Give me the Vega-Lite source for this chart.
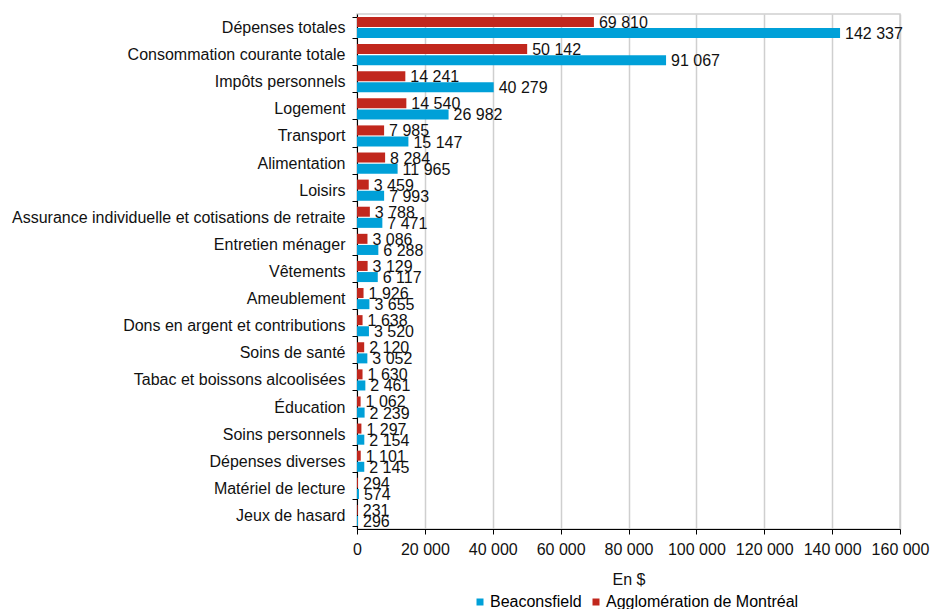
{
  "$schema": "https://vega.github.io/schema/vega-lite/v6.json",
  "autosize": "none",
  "width": 543,
  "height": 515,
  "padding": {"left": 357, "top": 14, "right": 32, "bottom": 80},
  "config": {
    "locale": {"number": {"decimal": ",", "thousands": " ", "grouping": [3], "currency": ["", " $"]}},
    "font": "Liberation Sans",
    "view": {"stroke": "#CFCFCF", "strokeWidth": 1.5},
    "axis": {"labelFont": "Liberation Sans", "titleFont": "Liberation Sans", "labelColor": "#111", "titleColor": "#111"},
    "legend": {"labelFont": "Liberation Sans"}
  },
  "data": {"values": [
    {"cat": "Dépenses totales", "serie": "Agglomération de Montréal", "val": 69810},
    {"cat": "Dépenses totales", "serie": "Beaconsfield", "val": 142337},
    {"cat": "Consommation courante totale", "serie": "Agglomération de Montréal", "val": 50142},
    {"cat": "Consommation courante totale", "serie": "Beaconsfield", "val": 91067},
    {"cat": "Impôts personnels", "serie": "Agglomération de Montréal", "val": 14241},
    {"cat": "Impôts personnels", "serie": "Beaconsfield", "val": 40279},
    {"cat": "Logement", "serie": "Agglomération de Montréal", "val": 14540},
    {"cat": "Logement", "serie": "Beaconsfield", "val": 26982},
    {"cat": "Transport", "serie": "Agglomération de Montréal", "val": 7985},
    {"cat": "Transport", "serie": "Beaconsfield", "val": 15147},
    {"cat": "Alimentation", "serie": "Agglomération de Montréal", "val": 8284},
    {"cat": "Alimentation", "serie": "Beaconsfield", "val": 11965},
    {"cat": "Loisirs", "serie": "Agglomération de Montréal", "val": 3459},
    {"cat": "Loisirs", "serie": "Beaconsfield", "val": 7993},
    {"cat": "Assurance individuelle et cotisations de retraite", "serie": "Agglomération de Montréal", "val": 3788},
    {"cat": "Assurance individuelle et cotisations de retraite", "serie": "Beaconsfield", "val": 7471},
    {"cat": "Entretien ménager", "serie": "Agglomération de Montréal", "val": 3086},
    {"cat": "Entretien ménager", "serie": "Beaconsfield", "val": 6288},
    {"cat": "Vêtements", "serie": "Agglomération de Montréal", "val": 3129},
    {"cat": "Vêtements", "serie": "Beaconsfield", "val": 6117},
    {"cat": "Ameublement", "serie": "Agglomération de Montréal", "val": 1926},
    {"cat": "Ameublement", "serie": "Beaconsfield", "val": 3655},
    {"cat": "Dons en argent et contributions", "serie": "Agglomération de Montréal", "val": 1638},
    {"cat": "Dons en argent et contributions", "serie": "Beaconsfield", "val": 3520},
    {"cat": "Soins de santé", "serie": "Agglomération de Montréal", "val": 2120},
    {"cat": "Soins de santé", "serie": "Beaconsfield", "val": 3052},
    {"cat": "Tabac et boissons alcoolisées", "serie": "Agglomération de Montréal", "val": 1630},
    {"cat": "Tabac et boissons alcoolisées", "serie": "Beaconsfield", "val": 2461},
    {"cat": "Éducation", "serie": "Agglomération de Montréal", "val": 1062},
    {"cat": "Éducation", "serie": "Beaconsfield", "val": 2239},
    {"cat": "Soins personnels", "serie": "Agglomération de Montréal", "val": 1297},
    {"cat": "Soins personnels", "serie": "Beaconsfield", "val": 2154},
    {"cat": "Dépenses diverses", "serie": "Agglomération de Montréal", "val": 1101},
    {"cat": "Dépenses diverses", "serie": "Beaconsfield", "val": 2145},
    {"cat": "Matériel de lecture", "serie": "Agglomération de Montréal", "val": 294},
    {"cat": "Matériel de lecture", "serie": "Beaconsfield", "val": 574},
    {"cat": "Jeux de hasard", "serie": "Agglomération de Montréal", "val": 231},
    {"cat": "Jeux de hasard", "serie": "Beaconsfield", "val": 296}
  ]},
  "encoding": {
    "y": {
      "field": "cat", "type": "nominal", "sort": null, "title": null,
      "scale": {"paddingInner": 0.22, "paddingOuter": 0.11},
      "axis": {"tickBand": "extent", "domainColor": "#000", "tickColor": "#000", "tickSize": 5, "labelFontSize": 16, "labelPadding": 7, "labelLimit": 400}
    },
    "yOffset": {"field": "serie", "type": "nominal", "sort": ["Agglomération de Montréal", "Beaconsfield"], "scale": {"paddingInner": 0.1}},
    "x": {
      "field": "val", "type": "quantitative", "title": "En $",
      "scale": {"domain": [0, 160000], "nice": false},
      "axis": {"values": [0, 20000, 40000, 60000, 80000, 100000, 120000, 140000, 160000], "format": ",d", "labelOverlap": false, "labelFlush": false, "grid": true, "gridColor": "#CFCFCF", "gridWidth": 1.5, "domainColor": "#000", "tickColor": "#000", "tickSize": 5, "labelFontSize": 16, "labelPadding": 7, "titleFontSize": 16, "titleFontWeight": "normal", "titlePadding": 14}
    }
  },
  "layer": [
    {
      "mark": {"type": "bar"},
      "encoding": {
        "color": {
          "field": "serie", "type": "nominal",
          "scale": {"domain": ["Beaconsfield", "Agglomération de Montréal"], "range": ["#00A0D8", "#C1271D"]},
          "legend": {"orient": "none", "legendX": 115, "legendY": 580, "title": null, "direction": "horizontal", "symbolType": "square", "symbolSize": 49, "labelFontSize": 16, "labelLimit": 400, "columnPadding": 6, "labelOffset": 2}
        }
      }
    },
    {
      "mark": {"type": "text", "align": "left", "baseline": "middle", "dx": 5, "dy": 1, "fontSize": 16, "color": "#111"},
      "encoding": {"text": {"field": "val", "type": "quantitative", "format": ",d"}}
    }
  ]
}
